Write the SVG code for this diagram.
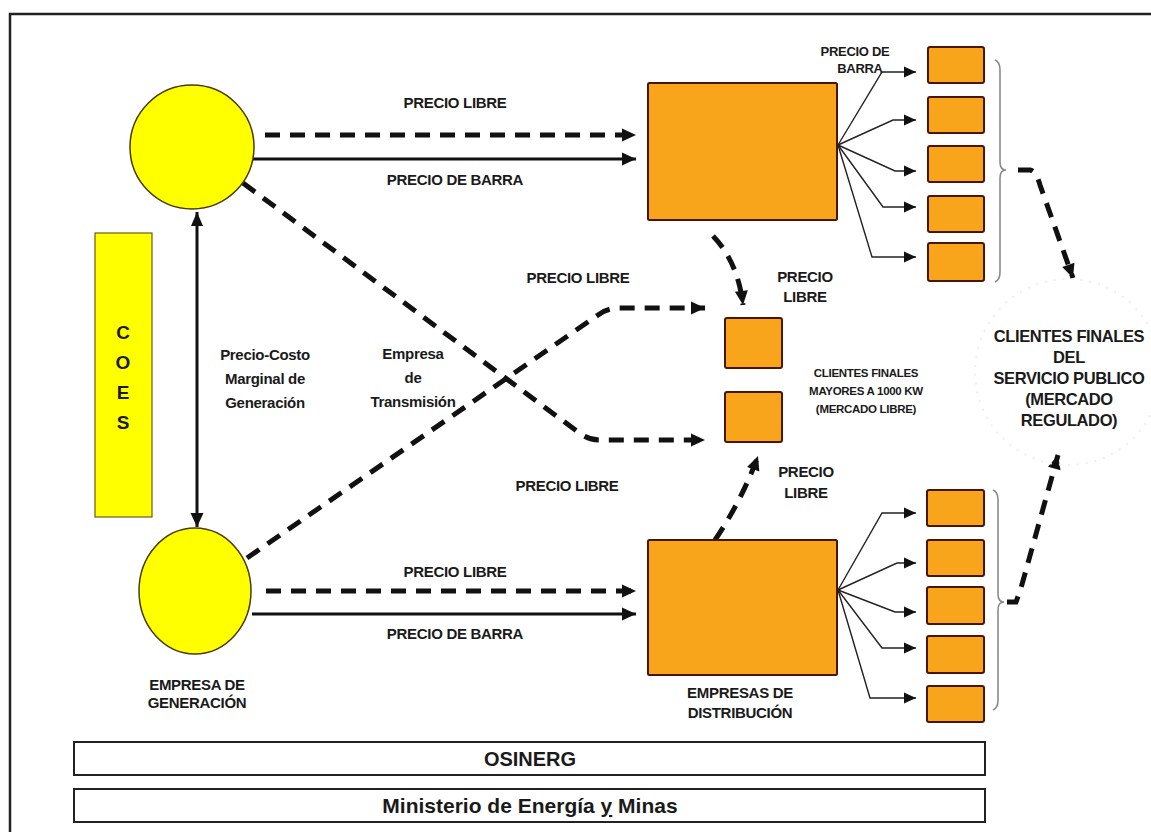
<svg xmlns="http://www.w3.org/2000/svg" width="1151" height="832" viewBox="0 0 1151 832">
  <style>
    .lbl { font-family: "Liberation Sans", Arial, sans-serif; font-weight: bold; fill: #1a1a1a; text-anchor: middle; }
    .s14 { font-size: 15px; letter-spacing: -0.3px; }
    .s12 { font-size: 13px; letter-spacing: -0.3px; }
    .s11 { font-size: 11.5px; letter-spacing: -0.3px; }
    .s16 { font-size: 16.5px; letter-spacing: -0.4px; }
    .gen { fill: #ffff00; stroke: #4a3a00; stroke-width: 1.5; }
    .org { fill: #f8a51b; stroke: #4a1500; stroke-width: 2; }
    .dash { fill: none; stroke: #111; stroke-width: 5; stroke-dasharray: 15 10; }
    .solid { fill: none; stroke: #111; stroke-width: 3; }
    .fan { fill: none; stroke: #222; stroke-width: 1.4; }
    .brace { fill: none; stroke: #8a8a8a; stroke-width: 1.6; }
    .bar { fill: #fff; stroke: #222; stroke-width: 2; }
  </style>
  <defs>
    <marker id="bigArrow" markerUnits="userSpaceOnUse" markerWidth="16" markerHeight="16" viewBox="0 0 16 16" refX="15" refY="8" orient="auto">
      <path d="M1,1.5 L15,8 L1,14.5 Z" fill="#111"/>
    </marker>
    <marker id="bigArrowStart" markerUnits="userSpaceOnUse" markerWidth="16" markerHeight="16" viewBox="0 0 16 16" refX="15" refY="8" orient="auto-start-reverse">
      <path d="M1,2 L15,8 L1,14 Z" fill="#111"/>
    </marker>
    <marker id="smallArrow" markerUnits="userSpaceOnUse" markerWidth="14" markerHeight="14" viewBox="0 0 14 14" refX="13" refY="7" orient="auto">
      <path d="M1,1.5 L13,7 L1,12.5 Z" fill="#111"/>
    </marker>
  </defs>

  <!-- outer frame -->
  <path d="M10,832 V14 H1151" fill="none" stroke="#222" stroke-width="2.5"/>

  <!-- connectors -->
  <g id="connectors">
    <!-- generation to upper distribution -->
    <path class="dash" d="M265,135 H636" marker-end="url(#bigArrow)"/>
    <path class="solid" d="M253,159 H636" marker-end="url(#bigArrow)"/>
    <!-- generation to lower distribution -->
    <path class="dash" d="M266,591 H636" marker-end="url(#bigArrow)"/>
    <path class="solid" d="M252,614 H636" marker-end="url(#bigArrow)"/>
    <!-- COES vertical link between generators -->
    <path class="solid" d="M197,212 V527" stroke-width="3.5" marker-start="url(#bigArrowStart)" marker-end="url(#bigArrow)"/>
    <!-- crossing free-market supply lines -->
    <path class="dash" d="M243,183 L578,432 Q588,440 600,440 L705,440" marker-end="url(#bigArrow)"/>
    <path class="dash" d="M247,558 L598,315 Q607,308 620,308 L705,308" marker-end="url(#bigArrow)"/>
    <!-- distribution to large clients -->
    <path class="dash" d="M713,236 Q738,262 743,305" marker-end="url(#bigArrow)"/>
    <path class="dash" d="M715,540 Q742,500 758,456" marker-end="url(#bigArrow)"/>
    <!-- regulated clients to public service -->
    <path class="dash" d="M1018,170 H1030 Q1036,171 1040,185 L1073,278" marker-end="url(#bigArrow)"/>
    <path class="dash" d="M1007,602 H1016 L1021,588 L1058,455" marker-end="url(#bigArrow)"/>
    <!-- upper fan -->
    <path class="fan" d="M838,145 L882,72 H916" marker-end="url(#smallArrow)"/>
    <path class="fan" d="M838,145 L893,120 H916" marker-end="url(#smallArrow)"/>
    <path class="fan" d="M838,145 L895,171 H916" marker-end="url(#smallArrow)"/>
    <path class="fan" d="M838,145 L883,207 H916" marker-end="url(#smallArrow)"/>
    <path class="fan" d="M838,145 L872,257 H916" marker-end="url(#smallArrow)"/>
    <!-- lower fan -->
    <path class="fan" d="M838,590 L882,513 H916" marker-end="url(#smallArrow)"/>
    <path class="fan" d="M838,590 L897,563 H916" marker-end="url(#smallArrow)"/>
    <path class="fan" d="M838,590 L895,612 H916" marker-end="url(#smallArrow)"/>
    <path class="fan" d="M838,590 L882,648 H916" marker-end="url(#smallArrow)"/>
    <path class="fan" d="M838,590 L870,698 H916" marker-end="url(#smallArrow)"/>
    <!-- braces -->
    <path class="brace" d="M995,60 Q1000,62 1000,70 V162 Q1000,170 1006,170 Q1000,170 1000,178 V272 Q1000,280 995,282"/>
    <path class="brace" d="M993,490 Q998,492 998,500 V594 Q998,602 1004,602 Q998,602 998,610 V700 Q998,708 993,710"/>
  </g>

  <!-- COES -->
  <g id="coes">
    <rect x="95" y="233" width="57" height="284" fill="#ffff00" stroke="#6a5a20" stroke-width="1.2"/>
    <text class="lbl" x="123" y="339" font-size="19">C</text>
    <text class="lbl" x="123" y="369" font-size="19">O</text>
    <text class="lbl" x="123" y="399" font-size="19">E</text>
    <text class="lbl" x="123" y="429" font-size="19">S</text>
  </g>

  <!-- generation companies -->
  <g id="gen-top">
    <circle class="gen" cx="192" cy="147" r="62"/>
  </g>
  <g id="gen-bottom">
    <ellipse class="gen" cx="195" cy="591" rx="56" ry="63"/>
    <text class="lbl s14" x="197" y="690">EMPRESA DE</text>
    <text class="lbl s14" x="197" y="708">GENERACIÓN</text>
  </g>

  <!-- distribution companies -->
  <g id="dist-top">
    <rect class="org" x="648" y="83" width="189" height="137" rx="1.5"/>
  </g>
  <g id="dist-bottom">
    <rect class="org" x="648" y="540" width="189" height="135" rx="1.5"/>
    <text class="lbl s14" x="740" y="698">EMPRESAS DE</text>
    <text class="lbl s14" x="740" y="718">DISTRIBUCIÓN</text>
  </g>

  <!-- large free-market clients -->
  <g id="free-clients">
    <rect class="org" x="725" y="318" width="57" height="50" rx="2"/>
    <rect class="org" x="725" y="392" width="57" height="50" rx="2"/>
    <text class="lbl s11" x="866" y="377">CLIENTES FINALES</text>
    <text class="lbl s11" x="866" y="395">MAYORES A 1000 KW</text>
    <text class="lbl s11" x="866" y="413">(MERCADO LIBRE)</text>
  </g>

  <!-- regulated clients, upper group -->
  <g id="reg-top">
    <rect class="org" x="928" y="47" width="56" height="36" rx="2"/>
    <rect class="org" x="928" y="97" width="56" height="36" rx="2"/>
    <rect class="org" x="928" y="146" width="56" height="36" rx="2"/>
    <rect class="org" x="928" y="196" width="56" height="36" rx="2"/>
    <rect class="org" x="928" y="243" width="56" height="38" rx="2"/>
  </g>

  <!-- regulated clients, lower group -->
  <g id="reg-bottom">
    <rect class="org" x="927" y="490" width="57" height="36" rx="2"/>
    <rect class="org" x="927" y="540" width="57" height="36" rx="2"/>
    <rect class="org" x="927" y="587" width="57" height="37" rx="2"/>
    <rect class="org" x="927" y="636" width="57" height="37" rx="2"/>
    <rect class="org" x="927" y="686" width="57" height="36" rx="2"/>
  </g>

  <!-- public service end clients -->
  <g id="public-clients">
    <circle cx="1068" cy="372" r="93" fill="none" stroke="#eeeeee" stroke-width="2" stroke-dasharray="2 7"/>
    <text class="lbl s16" x="1069" y="342">CLIENTES FINALES</text>
    <text class="lbl s16" x="1069" y="363">DEL</text>
    <text class="lbl s16" x="1069" y="384">SERVICIO PUBLICO</text>
    <text class="lbl s16" x="1069" y="405">(MERCADO</text>
    <text class="lbl s16" x="1069" y="426">REGULADO)</text>
  </g>

  <!-- connector labels -->
  <g id="labels">
    <text class="lbl s14" x="455" y="108">PRECIO LIBRE</text>
    <text class="lbl s14" x="455" y="185">PRECIO DE BARRA</text>
    <text class="lbl s12" x="855" y="56">PRECIO DE</text>
    <text class="lbl s12" x="860" y="73">BARRA</text>
    <text class="lbl s14" x="578" y="283">PRECIO LIBRE</text>
    <text class="lbl s14" x="805" y="282">PRECIO</text>
    <text class="lbl s14" x="805" y="302">LIBRE</text>
    <text class="lbl s14" x="265" y="360">Precio-Costo</text>
    <text class="lbl s14" x="265" y="384">Marginal de</text>
    <text class="lbl s14" x="265" y="408">Generación</text>
    <text class="lbl s14" x="413" y="359">Empresa</text>
    <text class="lbl s14" x="413" y="383">de</text>
    <text class="lbl s14" x="413" y="407">Transmisión</text>
    <text class="lbl s14" x="567" y="491">PRECIO LIBRE</text>
    <text class="lbl s14" x="806" y="477">PRECIO</text>
    <text class="lbl s14" x="806" y="498">LIBRE</text>
    <text class="lbl s14" x="455" y="577">PRECIO LIBRE</text>
    <text class="lbl s14" x="455" y="639">PRECIO DE BARRA</text>
  </g>

  <!-- regulators -->
  <g id="osinerg">
    <rect class="bar" x="74" y="742" width="911" height="33"/>
    <text class="lbl" x="530" y="766" font-size="20">OSINERG</text>
  </g>
  <g id="minem">
    <rect class="bar" x="74" y="789" width="911" height="33"/>
    <text class="lbl" x="530" y="813" font-size="21">Ministerio de Energía <tspan text-decoration="underline">y</tspan> Minas</text>
  </g>
</svg>
